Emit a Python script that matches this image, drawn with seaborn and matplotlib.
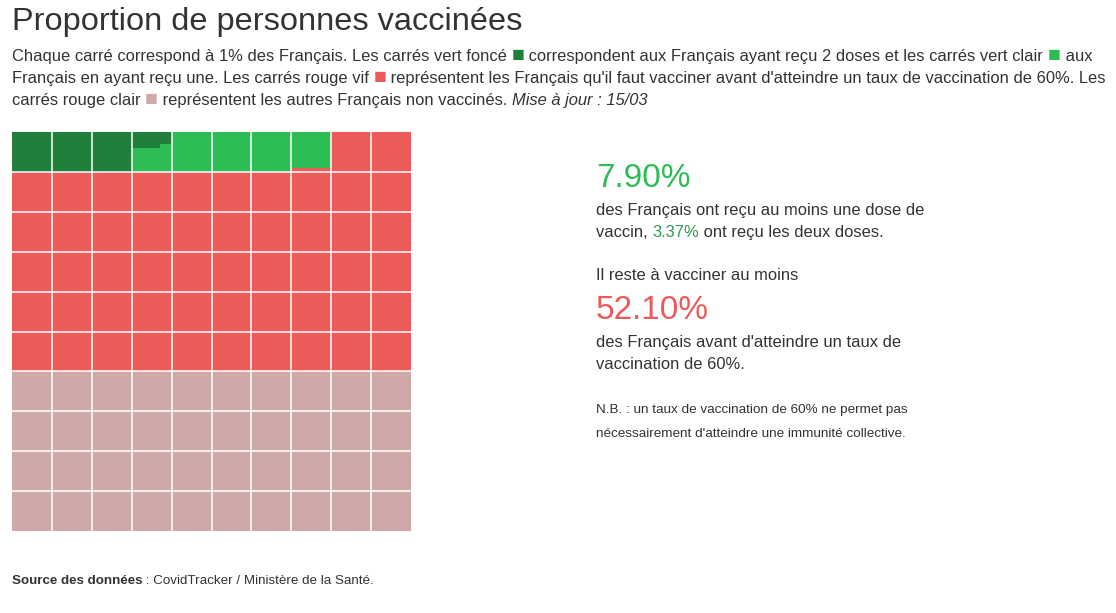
import numpy as np
import matplotlib
matplotlib.use('Agg')
import matplotlib.pyplot as plt
import seaborn as sns
from matplotlib.colors import ListedColormap
from matplotlib.patches import Rectangle

# données (en % de la population)
categories = ['deux doses', 'une dose', 'à vacciner avant 60%', 'autres non vaccinés']
bounds = [3.37, 7.90, 60.0, 100.0]  # bornes cumulées
colors = ['#1f7f3b', '#2ebd55', '#ec5a5a', '#cfa8a8']
pct_one_dose = 7.90
pct_two_doses = 3.37
pct_remaining = 52.10
target = 60
update = '15/03'

W, H = 1116, 613
FONT = ['Liberation Sans', 'DejaVu Sans']
TXT = '#333333'

sns.set_theme(style='white')
plt.rcParams['font.family'] = FONT

fig = plt.figure(figsize=(W / 100, H / 100), dpi=100)
fig.patch.set_facecolor('white')

# grille 10x10 : couleur de base = catégorie à la fin de chaque carré
grid = np.zeros((10, 10), dtype=int)
for k in range(100):
    grid[k // 10, k % 10] = np.searchsorted(bounds, k + 1 - 1e-9, side='left')

ax = fig.add_axes([12 / W, (H - 531) / H, 399 / W, 399 / H])
sns.heatmap(grid, ax=ax, cmap=ListedColormap(colors), vmin=-0.5, vmax=3.5,
            cbar=False, linewidths=0,
            xticklabels=False, yticklabels=False)

# carrés partiellement remplis (remplissage par dixièmes depuis le haut)
for k in range(100):
    c0 = np.searchsorted(bounds, k, side='right')
    if c0 < len(bounds) and c0 != grid[k // 10, k % 10]:
        p = round(bounds[c0] - k, 4)
        i, j = k // 10, k % 10
        n = int(p * 10 + 1e-9)
        r = round(p * 10 - n, 4)
        if n > 0:
            ax.add_patch(Rectangle((j, i), 1, n / 10, color=colors[c0], lw=0, zorder=2))
        if r > 0:
            ax.add_patch(Rectangle((j, i + n / 10), r, 0.1, color=colors[c0], lw=0, zorder=2))

for v in range(1, 10):
    ax.axhline(v, color='white', lw=1.1, zorder=3)
    ax.axvline(v, color='white', lw=1.1, zorder=3)

renderer = fig.canvas.get_renderer()


def text_width(s, size, style='normal', weight='normal'):
    a = fig.text(0, 0, s + '|', fontsize=size, fontstyle=style, fontweight=weight)
    b = fig.text(0, 0, '|', fontsize=size, fontstyle=style, fontweight=weight)
    w = a.get_window_extent(renderer).width - b.get_window_extent(renderer).width
    a.remove()
    b.remove()
    return w


def rich_line(x, y, segments, size):
    for seg in segments:
        s, color = seg[0], seg[1]
        style = seg[2] if len(seg) > 2 else 'normal'
        weight = seg[3] if len(seg) > 3 else 'normal'
        sz = size * 1.3 if s == SQ else size
        fig.text(x / W, 1 - y / H, s, color=color, fontsize=sz, fontstyle=style,
                 fontweight=weight, va='baseline', ha='left')
        x += text_width(s, sz, style, weight)


SQ = '\u25a0'
fig.text(12 / W, 1 - 30 / H, 'Proportion de personnes vaccinées', fontsize=23.4,
         color=TXT, va='baseline')

body = 11.85
rich_line(12, 61, [
    ('Chaque carré correspond à 1% des Français. Les carrés vert foncé ', TXT),
    (SQ, colors[0]),
    (" correspondent aux Français ayant reçu 2 doses et les carrés vert clair ", TXT),
    (SQ, colors[1]),
    (' aux', TXT)], body)
rich_line(12, 83, [
    ('Français en ayant reçu une. Les carrés rouge vif ', TXT),
    (SQ, colors[2]),
    (" représentent les Français qu'il faut vacciner avant d'atteindre un taux de "
     f"vaccination de {target}%. Les", TXT)], body)
rich_line(12, 105, [
    ('carrés rouge clair ', TXT),
    (SQ, colors[3]),
    (' représentent les autres Français non vaccinés. ', TXT),
    (f'Mise à jour : {update}', TXT, 'italic')], body)

# bloc de droite
xr = 596
fig.text(xr / W, 1 - 187 / H, f'{pct_one_dose:.2f}%', fontsize=24, color=colors[1],
         va='baseline')
rich_line(xr, 215, [('des Français ont reçu au moins une dose de', TXT)], body)
rich_line(xr, 237, [('vaccin, ', TXT), (f'{pct_two_doses:.2f}%', '#2e9a4c'),
                    (' ont reçu les deux doses.', TXT)], body)
rich_line(xr, 280, [('Il reste à vacciner au moins', TXT)], body)
fig.text(xr / W, 1 - 319 / H, f'{pct_remaining:.2f}%', fontsize=24, color=colors[2],
         va='baseline')
rich_line(xr, 347, [("des Français avant d'atteindre un taux de", TXT)], body)
rich_line(xr, 369, [(f'vaccination de {target}%.', TXT)], body)
rich_line(xr, 413, [(f'N.B. : un taux de vaccination de {target}% ne permet pas', TXT)], 9.7)
rich_line(xr, 437, [("nécessairement d'atteindre une immunité collective.", TXT)], 9.7)

rich_line(12, 584, [('Source des données', TXT, 'normal', 'bold'),
                    (' : CovidTracker / Ministère de la Santé.', TXT)], 9.6)

fig.savefig('out.png', dpi=100, facecolor='white')
